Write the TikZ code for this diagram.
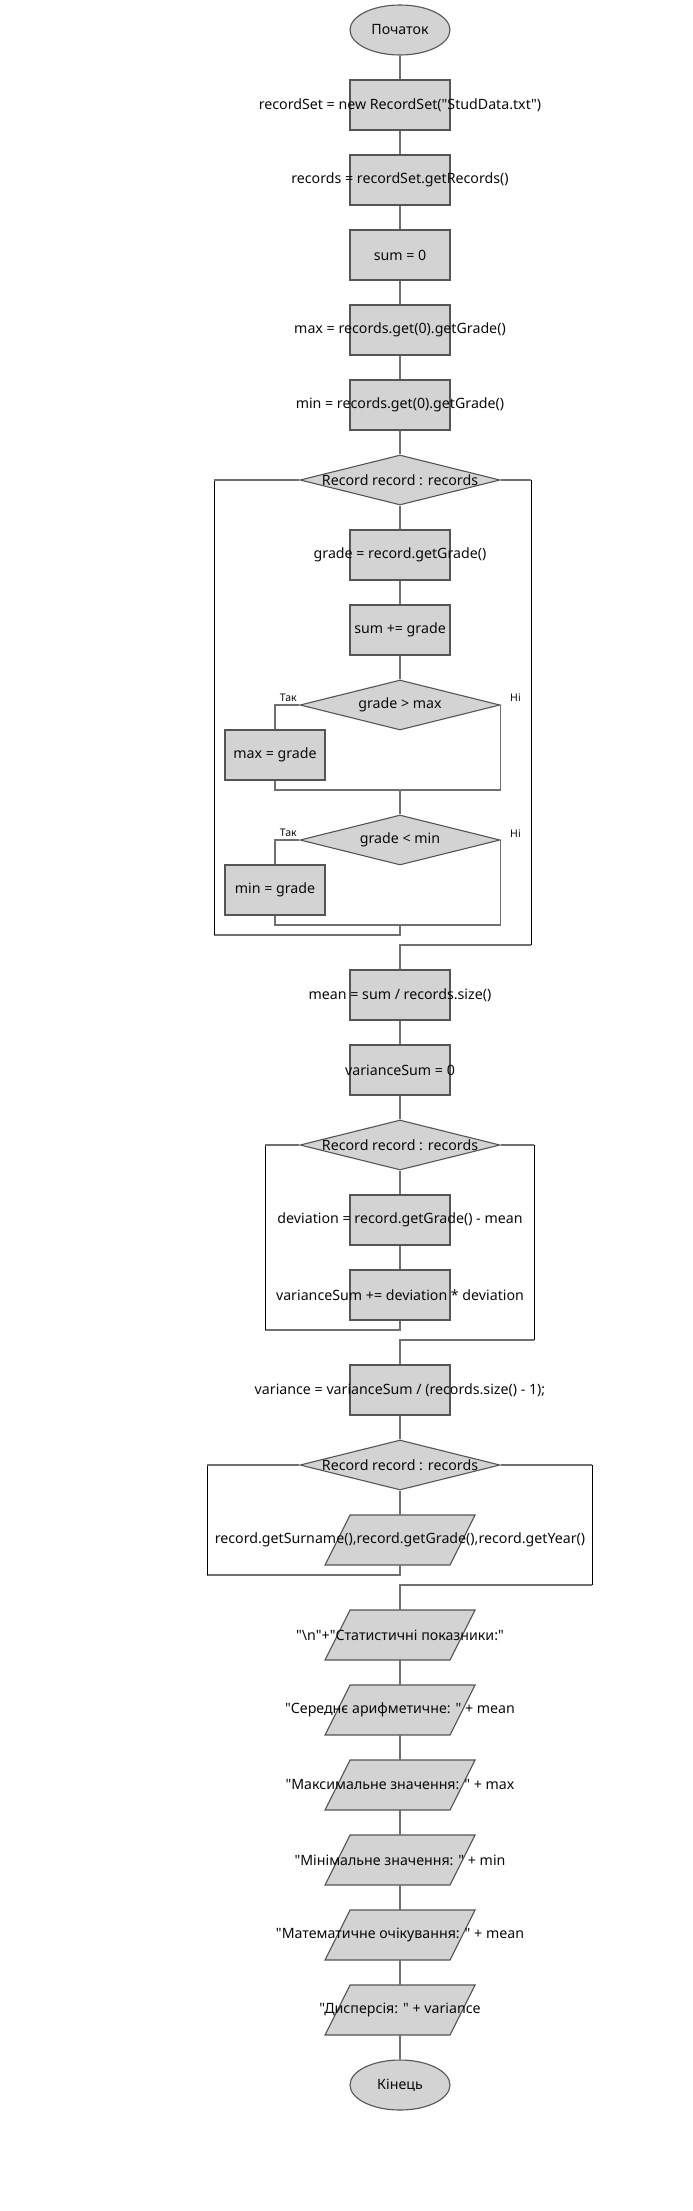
\documentclass[tikz,border=0pt]{standalone}
\usepackage{fontspec}
\setmainfont{Noto Sans}[Ligatures=TeXOff]
\usetikzlibrary{shapes.geometric,calc}
\definecolor{boxfill}{RGB}{211,211,211}
\definecolor{bordercol}{RGB}{85,85,85}
\definecolor{linecol}{RGB}{112,112,112}
\definecolor{textcol}{RGB}{10,10,10}
\newcommand{\mainsz}{\fontsize{14.2}{16}\selectfont}
\newcommand{\lblsz}{\fontsize{10.5}{12}\selectfont}
\tikzset{
  base/.style={draw=bordercol, line width=1.1pt, fill=boxfill, inner sep=0pt},
  proc/.style={base, rectangle, minimum width=100pt, minimum height=50pt},
  term/.style={base, ellipse, minimum width=100pt, minimum height=50pt},
  dec/.style={base, diamond, minimum width=200pt, minimum height=50pt},
  iosh/.style={draw=bordercol, line width=1.1pt, fill=boxfill},
  iobox/.style={rectangle, minimum width=125pt, minimum height=50pt, inner sep=0pt},
  txt/.style={font=\mainsz, text=textcol, inner sep=0pt},
  conn/.style={draw=linecol, line width=1.3pt},
  side/.style={draw=black, line width=1pt},
  lbl/.style={font=\lblsz, text=textcol, inner sep=0pt},
}
\newcommand{\ionode}[3]{%
  \filldraw[iosh] (325,#2+25) -- (450,#2+25) -- (475,#2-25) -- (350,#2-25) -- cycle;
  \node[iobox, label={[txt]center:{#3}}] (#1) at (400,#2) {};}
\begin{document}
\begin{tikzpicture}[x=1pt,y=-1pt]
\useasboundingbox (0,0) rectangle (693,2211);
% main chain
\node[term, label={[txt]center:{Початок}}] (start) at (400,30) {};
\node[proc, label={[txt]center:{recordSet = new RecordSet("StudData.txt")}}] (b1) at (400,105) {};
\node[proc, label={[txt]center:{records = recordSet.getRecords()}}] (b2) at (400,180) {};
\node[proc, label={[txt]center:{sum = 0}}] (b3) at (400,255) {};
\node[proc, label={[txt]center:{max = records.get(0).getGrade()}}] (b4) at (400,330) {};
\node[proc, label={[txt]center:{min = records.get(0).getGrade()}}] (b5) at (400,405) {};
% loop 1
\node[dec, label={[txt]center:{Record record : records}}] (d1) at (400,480) {};
\node[proc, label={[txt]center:{grade = record.getGrade()}}] (b6) at (400,555) {};
\node[proc, label={[txt]center:{sum += grade}}] (b7) at (400,630) {};
\node[dec, label={[txt]center:{grade > max}}] (d2) at (400,705) {};
\node[proc, label={[txt]center:{max = grade}}] (bmax) at (275,755) {};
\node[dec, label={[txt]center:{grade < min}}] (d3) at (400,840) {};
\node[proc, label={[txt]center:{min = grade}}] (bmin) at (275,890) {};
\node[lbl, anchor=south east] (yes1) at (297,702) {Так};
\node[lbl, anchor=west] (no1) at (510,698) {Ні};
\node[lbl, anchor=south east] (yes2) at (297,837) {Так};
\node[lbl, anchor=west] (no2) at (510,834) {Ні};
\coordinate (j1) at (400,790);
\coordinate (j2) at (400,925);
\coordinate (l1b) at (400,935);
\coordinate (l1bl) at (214,935);
\coordinate (l1tl) at (214,480);
\coordinate (l1tr) at (531,480);
\coordinate (l1br) at (531,945);
\coordinate (l1x) at (400,945);
% after loop 1
\node[proc, label={[txt]center:{mean = sum / records.size()}}] (b8) at (400,995) {};
\node[proc, label={[txt]center:{varianceSum = 0}}] (b9) at (400,1070) {};
% loop 2
\node[dec, label={[txt]center:{Record record : records}}] (d4) at (400,1145) {};
\node[proc, label={[txt]center:{deviation = record.getGrade() - mean}}] (b10) at (400,1220) {};
\node[proc, label={[txt]center:{varianceSum += deviation * deviation}}] (b11) at (400,1295) {};
\coordinate (l2b) at (400,1330);
\coordinate (l2bl) at (265,1330);
\coordinate (l2tl) at (265,1145);
\coordinate (l2tr) at (534,1145);
\coordinate (l2br) at (534,1340);
\coordinate (l2x) at (400,1340);
\node[proc, label={[txt]center:{variance = varianceSum / (records.size() - 1);}}] (b12) at (400,1390) {};
% loop 3
\node[dec, label={[txt]center:{Record record : records}}] (d5) at (400,1465) {};
\ionode{p1}{1540}{record.getSurname(),record.getGrade(),record.getYear()}
\coordinate (l3b) at (400,1575);
\coordinate (l3bl) at (207,1575);
\coordinate (l3tl) at (207,1465);
\coordinate (l3tr) at (592,1465);
\coordinate (l3br) at (592,1585);
\coordinate (l3x) at (400,1585);
% output
\ionode{p2}{1635}{"\textbackslash n"+"Статистичні показники:"}
\ionode{p3}{1710}{"Середнє арифметичне: " + mean}
\ionode{p4}{1785}{"Максимальне значення: " + max}
\ionode{p5}{1860}{"Мінімальне значення: " + min}
\ionode{p6}{1935}{"Математичне очікування: " + mean}
\ionode{p7}{2010}{"Дисперсія: " + variance}
\node[term, label={[txt]center:{Кінець}}] (end) at (400,2085) {};
% connectors
\draw[conn] (start) -- (b1);
\draw[conn] (b1) -- (b2);
\draw[conn] (b2) -- (b3);
\draw[conn] (b3) -- (b4);
\draw[conn] (b4) -- (b5);
\draw[conn] (b5) -- (d1);
\draw[conn] (d1) -- (b6);
\draw[conn] (b6) -- (b7);
\draw[conn] (b7) -- (d2);
\draw[conn] (d2.west) -| (bmax.north);
\draw[conn] (bmax.south) |- (j1);
\draw[conn] (d2.east) |- (j1);
\draw[conn] (j1) -- (d3.north);
\draw[conn] (d3.west) -| (bmin.north);
\draw[conn] (bmin.south) |- (j2);
\draw[conn] (d3.east) |- (j2);
\draw[conn] (j2) -- (l1b) -- (l1bl);
\draw[side] (l1bl) -- (l1tl);
\draw[conn] (l1tl) -- (d1.west);
\draw[conn] (d1.east) -- (l1tr);
\draw[side] (l1tr) -- (l1br);
\draw[conn] (l1br) -- (l1x) -- (b8.north);
\draw[conn] (b8) -- (b9);
\draw[conn] (b9) -- (d4);
\draw[conn] (d4) -- (b10);
\draw[conn] (b10) -- (b11);
\draw[conn] (b11.south) -- (l2b) -- (l2bl);
\draw[side] (l2bl) -- (l2tl);
\draw[conn] (l2tl) -- (d4.west);
\draw[conn] (d4.east) -- (l2tr);
\draw[side] (l2tr) -- (l2br);
\draw[conn] (l2br) -- (l2x) -- (b12.north);
\draw[conn] (b12) -- (d5);
\draw[conn] (d5) -- (p1);
\draw[conn] (p1.south) -- (l3b) -- (l3bl);
\draw[side] (l3bl) -- (l3tl);
\draw[conn] (l3tl) -- (d5.west);
\draw[conn] (d5.east) -- (l3tr);
\draw[side] (l3tr) -- (l3br);
\draw[conn] (l3br) -- (l3x) -- (p2.north);
\draw[conn] (p2) -- (p3);
\draw[conn] (p3) -- (p4);
\draw[conn] (p4) -- (p5);
\draw[conn] (p5) -- (p6);
\draw[conn] (p6) -- (p7);
\draw[conn] (p7) -- (end);
\end{tikzpicture}
\end{document}
